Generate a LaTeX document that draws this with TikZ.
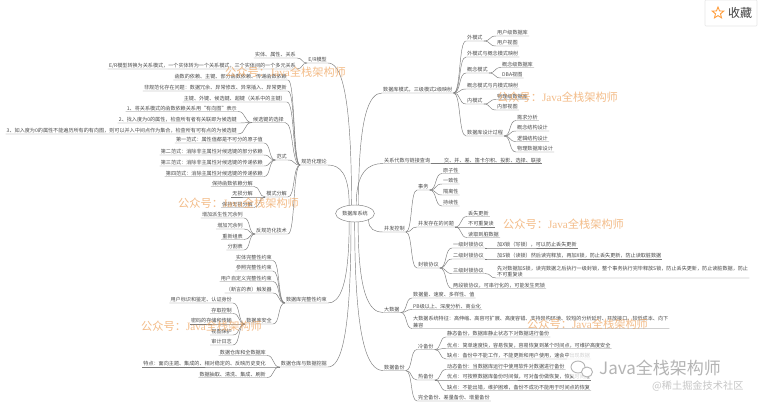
\documentclass[tikz,border=0pt]{standalone}
\usepackage{fontspec}
\setmainfont{Noto Sans CJK SC}
\newfontfamily\markserif{Liberation Serif}
\usetikzlibrary{calc,shapes.geometric}
\definecolor{ink}{HTML}{4A4A4A}
\definecolor{wire}{HTML}{7C7C7C}
\definecolor{stamp}{HTML}{EFA35C}
\definecolor{faint}{HTML}{B4B4B4}
\definecolor{framegray}{HTML}{E6E6E6}
\tikzset{
  basetxt/.style={font=\fontsize{5.1}{6.4}\selectfont,text=ink,inner xsep=1pt,inner ysep=0.7pt,align=left},
  lf/.style={basetxt,anchor=south east},
  rt/.style={basetxt,anchor=south west},
  link/.style={draw=wire,line width=0.45pt},
  % S-shaped branch between two neighbouring levels
  branch/.style={to path={.. controls ($(\tikztostart)!.6!(\tikztotarget |- \tikztostart)$) and ($(\tikztostart |- \tikztotarget)!.4!(\tikztotarget)$) .. (\tikztotarget)}},
  % long arm leaving the central ellipse
  spoke/.style={to path={.. controls ($(\tikztostart)!.8!(\tikztostart |- \tikztotarget)$) and ($(\tikztotarget)!.55!(\tikztostart |- \tikztotarget)$) .. (\tikztotarget)}},
  stampmark/.style={font=\fontsize{11.2}{12}\selectfont,text=stamp,opacity=.72,anchor=west,inner sep=0pt}
}
\begin{document}
\begin{tikzpicture}[x=1pt,y=-1pt]
  \useasboundingbox (0,0) rectangle (771,408);
  \fill[white] (0,0) rectangle (771,408);

  \node[draw=wire,line width=0.45pt,fill=white,ellipse,inner sep=0pt,minimum width=34pt,minimum height=17pt,basetxt] (root) at (355,213.5) {数据库系统};

  % left half, first level
  \node[lf] (er) at (328,63) {E/R模型};
  \node[lf] (norm) at (328,165) {规范化理论};
  \node[lf] (integ) at (328,303) {数据库完整性约束};
  \node[lf] (dw) at (328,367) {数据仓库与数据挖掘};

  \node[lf] (er1) at (297,58) {实体、属性、关系};
  \node[lf] (er2) at (297,69) {E/R模型转换为关系模式，一个实体转为一个关系模式，三个实体间的一个多元关系};

  \node[lf] (nf1) at (288,80) {函数的依赖、主键、部分函数依赖、传递函数依赖};
  \node[lf] (nf2) at (288,91) {非规范化存在问题：数据冗余、异常修改、异常插入、异常更新};
  \node[lf] (nf3) at (287,102) {主键、外键、候选键、超键（关系中的主键）};
  \node[lf] (nf4) at (285,122.5) {候选键的选择};
  \node[lf] (nf5) at (288,160) {范式};
  \node[lf] (nf6) at (288,197) {模式分解};
  \node[lf] (nf7) at (288,234) {反规范化技术};

  \node[lf] (key1) at (238,111.5) {1、将关系模式的函数依赖关系用“有向图”表示};
  \node[lf] (key2) at (238,123) {2、找入度为0的属性，检查所有者有关联即为候选键};
  \node[lf] (key3) at (238,134) {3、如入度为0的属性不能遍历所有的有向图，则可以并入中间点作为集合，检查所有可有点的为候选键};

  \foreach \n/\x/\y/\t in {
    a1/264/143/第一范式：属性值都是不可分的原子值,
    a2/264/155/第二范式：消除非主属性对候选键的部分依赖,
    a3/264/166/第三范式：消除非主属性对候选键的传递依赖,
    a4/264/176.5/第四范式：消除主属性对候选键的传递依赖,
    b1/254/186.5/保持函数依赖分解,
    b2/254/197/无损分解,
    b3/254/207.5/保持无损分解,
    c1/244/218/增加派生性冗余列,
    c2/244/229/增加冗余列,
    c3/244/239.5/重新组表,
    c4/244/250/分割表,
    d1/273/260.5/实体完整性约束,
    d2/273/271/参照完整性约束,
    d3/273/281.5/用户自定义完整性约束,
    d4/273/293/（断言的表）触发器,
    d5/273/324/数据库安全,
    e1/233/303/用户标识和鉴定、认证身份,
    e2/233/313.5/存取控制,
    e3/233/324/密码的存储和传输,
    e4/233/335/视图保护,
    e5/233/345/审计日志,
    f1/267/355.5/数据仓库和全数据库,
    f2/267/367/特点：面向主题、集成的、相对稳定的、反映历史变化,
    f3/267/377.5/数据抽取、清洗、集成、刷新} {
    \node[lf] (\n) at (\x,\y) {\t};
  }

  % right half, first level
  \node[rt] (schema) at (382,93) {数据库模式，三级模式2级映射};
  \node[rt] (algebra) at (383,163.5) {关系代数与链接查询};
  \node[rt] (ctrl) at (383,232) {并发控制};
  \node[rt] (big) at (383,312.5) {大数据};
  \node[rt] (backup) at (383,370.5) {数据备份};

  \foreach \n/\x/\y/\t in {
    s1/466/41/外模式,
    s2/466/57/外模式与概念模式映射,
    s3/466/73/概念模式,
    s4/466/89/概念模式与内模式映射,
    s5/466/104/内模式,
    s6/466/136/数据库设计过程,
    s11/496/36/用户级数据库,
    s12/496/46/用户视图,
    s31/501/67.5/概念级数据库,
    s32/501/78/DBA视图,
    s51/496/99.5/物理级数据库,
    s52/496/110/内部视图,
    s61/516/120.5/需求分析,
    s62/516/131/概念结构设计,
    s63/516/141.5/逻辑结构设计,
    s64/516/152/物理数据库设计,
    ops/443/163.5/交、并、差、笛卡尔积、投影、选择、联接,
    t1/417/190/事务,
    t2/417/227/并发存在的问题,
    t3/417/268/封锁协议,
    t11/442/173.5/原子性,
    t12/442/184/一致性,
    t13/442/195/隔离性,
    t14/442/206/持续性,
    t21/467/216.5/丢失更新,
    t22/467/227/不可重复读,
    t23/467/237.5/读取到脏数据,
    t31/452/248/一级封锁协议,
    t32/452/259/二级封锁协议,
    t33/452/273.5/三级封锁协议,
    t34/452/288.5/两段锁协议，可串行化的，可能发生死锁,
    u1/496/248/加X锁（写锁），可以防止丢失更新,
    u2/496/259/加S锁（读锁）然后读完释放，再加X锁，防止丢失更新，防止读取脏数据,
    v1/412/298/数据量、速度、多样性、值,
    v2/412/309.5/PB级以上、深度分析、商业化,
    w1/417/349.5/冷备份,
    w2/417/380/热备份,
    w3/417/401/完全备份、差量备份、增量备份,
    w11/446/337/静态备份，数据库静止状态下对数据进行备份,
    w12/446/348.5/优点：简单速度快，容易恢复，容易恢复到某个时间点，可维护高度安全,
    w13/446/359/缺点：备份中不能工作，不能更新和用户使用，速会中出现数据,
    w21/446/369.5/动态备份：当数据库运行中使用软件对数据进行备份,
    w22/446/380/优点：可按照数据库备份时间做，可对备份做恢复，恢复时间短,
    w23/446/390.5/缺点：不能出错，维护困难，备份不成功不能用于时间点的恢复} {
    \node[rt] (\n) at (\x,\y) {\t};
  }
  \node[rt] (u3) at (496,278) {先对数据加S锁，读完数据之后执行一级封锁，整个事务执行完毕释放S锁，防止丢失更新，防止读脏数据，防止\\不可重复读};
  \node[rt] (v3) at (412,328.5) {大数据系统特征：高伸缩、高容可扩展、高度容错、支持异构环境、较短的分析延时、开放接口、较低成本、向下\\兼容};

  % arms from the ellipse
  \foreach \a/\b in {112/er,125/norm,235/integ,245/dw} {
    \draw[link] (root.\a) to[spoke] (\b.south east) -- (\b.south west);
  }
  \foreach \a/\b in {68/schema,82/algebra,335/ctrl,290/big,268/backup} {
    \draw[link] (root.\a) to[spoke] (\b.south west) -- (\b.south east);
  }

  % left branches
  \foreach \a/\b in {er/er1,er/er2,norm/nf1,norm/nf2,norm/nf3,norm/nf4,norm/nf5,norm/nf6,norm/nf7,
    nf4/key1,nf4/key2,nf4/key3,nf5/a1,nf5/a2,nf5/a3,nf5/a4,nf6/b1,nf6/b2,nf6/b3,
    nf7/c1,nf7/c2,nf7/c3,nf7/c4,integ/d1,integ/d2,integ/d3,integ/d4,integ/d5,
    d5/e1,d5/e2,d5/e3,d5/e4,d5/e5,dw/f1,dw/f2,dw/f3} {
    \draw[link] (\a.south west) to[branch] (\b.south east) -- (\b.south west);
  }

  % right branches
  \foreach \a/\b in {schema/s1,schema/s2,schema/s3,schema/s4,schema/s5,schema/s6,
    s1/s11,s1/s12,s3/s31,s3/s32,s5/s51,s5/s52,s6/s61,s6/s62,s6/s63,s6/s64,algebra/ops,
    ctrl/t1,ctrl/t2,ctrl/t3,t1/t11,t1/t12,t1/t13,t1/t14,t2/t21,t2/t22,t2/t23,
    t3/t31,t3/t32,t3/t33,t3/t34,t31/u1,t32/u2,t33/u3,big/v1,big/v2,big/v3,
    backup/w1,backup/w2,backup/w3,w1/w11,w1/w12,w1/w13,w2/w21,w2/w22,w2/w23} {
    \draw[link] (\a.south east) to[branch] (\b.south west) -- (\b.south east);
  }

  % orange stamps
  \foreach \n/\x/\y in {m1/225/72,m2/497/97,m3/178/203,m4/503/224,m5/141/326,m6/527/324} {
    \node[stampmark] (\n) at (\x,\y) {公众号：{\markserif Java}全栈架构师};
  }

  % save button
  \node[draw=framegray,line width=0.6pt,fill=white,rounded corners=1pt,minimum width=52pt,minimum height=26pt,inner sep=0pt] (savebtn) at (731,13) {};
  \node[star,star points=5,star point ratio=2.3,draw=orange!75,line width=0.9pt,minimum size=12pt,inner sep=0pt] (savestar) at (718,13) {};
  \node[font=\fontsize{12}{13}\selectfont,text=black!75,inner sep=0pt] (savetxt) at (740,13) {收藏};

  % site mark, lower right
  \fill[white,opacity=.75] (581,364) circle (15);
  \node[ellipse,draw=faint,line width=0.9pt,fill=white,minimum width=14pt,minimum height=12pt,inner sep=0pt] (chatA) at (578,367) {};
  \node[ellipse,draw=faint,line width=0.9pt,fill=white,minimum width=11pt,minimum height=10pt,inner sep=0pt] (chatB) at (587,372) {};
  \node[font=\fontsize{17}{18}\selectfont,text=faint,anchor=west,inner sep=0pt] (sitename) at (599,368) {Java全栈架构师};
  \node[font=\fontsize{10.2}{11}\selectfont,text=black!22,anchor=west,inner sep=0pt] (sitesub) at (652,386) {@稀土掘金技术社区};
\end{tikzpicture}
\end{document}
